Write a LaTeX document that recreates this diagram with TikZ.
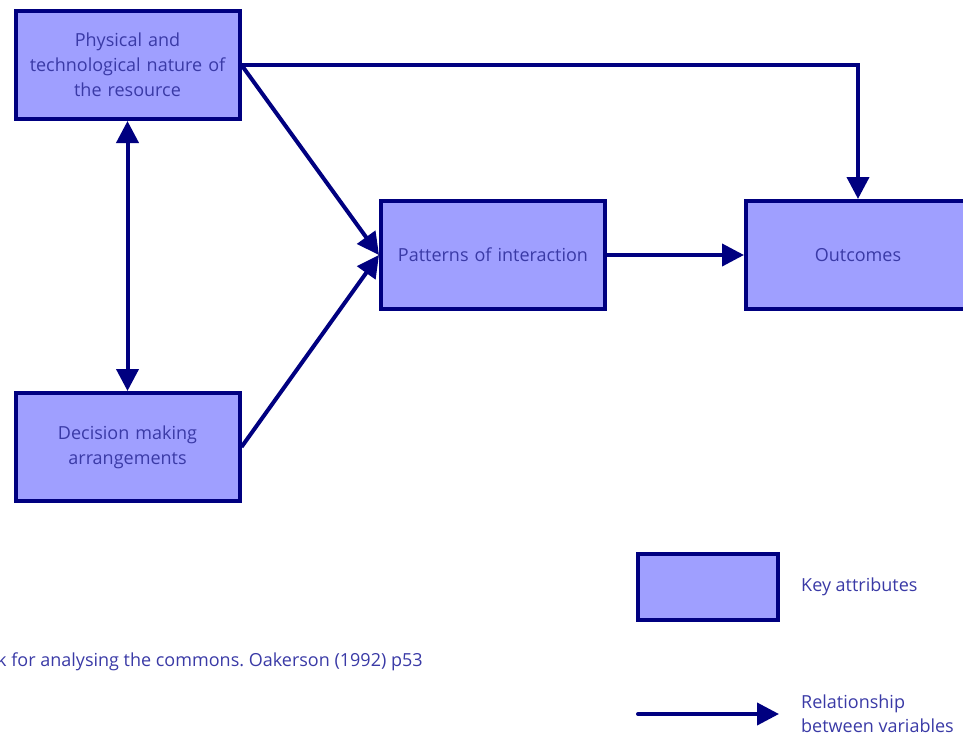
\documentclass[tikz,border=0pt]{standalone}
\usepackage{fontspec}
\setmainfont{Open Sans}
\usepackage{xcolor}
\usetikzlibrary{arrows.meta}
\definecolor{linenavy}{HTML}{000080}
\definecolor{boxfill}{HTML}{9F9FFF}
\definecolor{textblue}{HTML}{3A3AA6}
\tikzset{
  attrbox/.style={draw=linenavy,fill=boxfill,line width=4pt,minimum width=224pt,minimum height=108pt,
    text width=218pt,align=center,text=textblue,font=\fontsize{18}{25}\selectfont,inner sep=0pt},
  rel/.style={draw=linenavy,line width=4pt,-{Triangle[length=22pt,width=22pt]}},
  lbl/.style={text=textblue,font=\fontsize{18}{24}\selectfont,inner sep=0pt}
}
\frenchspacing
\begin{document}
\begin{tikzpicture}[x=1pt,y=-1pt]
            \useasboundingbox (0,0) rectangle (963,736);
            \clip (0,0) rectangle (963,736);
            % key attributes
            \node[attrbox] (phys) at (127.5,65) {Physical and\\technological nature of\\the resource};
            \node[attrbox] (dec) at (127.5,447) {Decision making\\arrangements};
            \node[attrbox] (inter) at (493,255) {Patterns of interaction};
            \node[attrbox] (out) at (858,255) {Outcomes};
            % relationships
            \draw[rel,{Triangle[length=22pt,width=22pt]}-{Triangle[length=22pt,width=22pt]}] (phys.south) -- (dec.north);
            \draw[rel] (phys.east) -- (inter.west);
            \draw[rel] (dec.east) -- (inter.west);
            \draw[rel] (inter.east) -- (out.west);
            \draw[rel] (phys.east) -| (out.north);
            % caption
            \node[lbl,anchor=west] (caption) at (-3,662) {k for analysing the commons. Oakerson (1992) p53};
            % legend
            \node[attrbox,minimum width=140pt,minimum height=66pt,text width=130pt] (keybox) at (707.5,586.5) {};
            \node[lbl,anchor=west] (keylbl) at (801,587) {Key attributes};
            \coordinate (relA) at (638,714);
            \coordinate (relB) at (779,714);
            \draw[rel,line cap=round] (relA) -- (relB);
            \node[lbl,anchor=west,align=left] (rellbl) at (801,714) {Relationship\\between variables};
        \end{tikzpicture}
\end{document}
